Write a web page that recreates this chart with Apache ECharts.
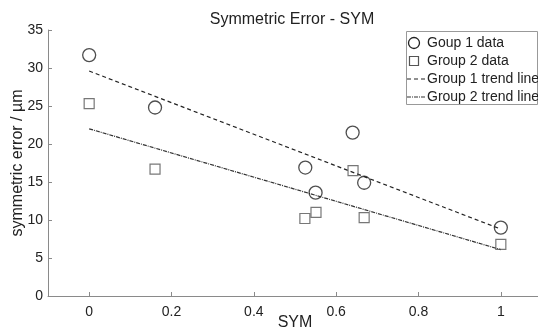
<!DOCTYPE html>
<html>
<head>
<meta charset="utf-8">
<script src="https://cdn.jsdelivr.net/npm/echarts@6/dist/echarts.min.js"></script>
<style>
  html, body { margin: 0; padding: 0; background: #fff; }
  #chart { width: 538px; height: 331px; }
</style>
</head>
<body>
<div id="chart"></div>
<script>
// Group 1: SYM value and symmetric error (µm)
const group1X = [0, 0.16, 0.525, 0.55, 0.64, 0.668, 1.0];
const group1Y = [31.7, 24.8, 16.9, 13.6, 21.5, 14.9, 9.0];
// Group 2
const group2X = [0, 0.16, 0.524, 0.551, 0.641, 0.668, 1.0];
const group2Y = [25.3, 16.7, 10.2, 11.0, 16.5, 10.3, 6.8];
// Linear trend lines, given by their end points
const trendX = [0, 1];
const trend1Y = [29.6, 8.8];
const trend2Y = [22.0, 6.1];
// Tick labels
const xTicks = [0, 0.2, 0.4, 0.6, 0.8, 1];
// Legend entries
const legendNames = ['Goup 1 data', 'Group 2 data', 'Group 1 trend line', 'Group 2 trend line'];

const pairs = (xs, ys) => xs.map((x, i) => [x, ys[i]]);
const font = 'Liberation Sans, Arial, sans-serif';
const axisGray = '#8a8a8a';
const ink = '#222';

const dash1 = [4, 3];
const dash2 = [4, 1, 1, 1];

// Boxed legend in the upper right corner
const lgX = 406, lgY = 31, lgW = 131, lgH = 73, rowH = 18;
const rowY = i => lgY + 12 + i * rowH;
const legendGraphics = [
  { type: 'rect', shape: { x: lgX + 0.5, y: lgY + 0.5, width: lgW, height: lgH },
    style: { fill: '#fff', stroke: '#999', lineWidth: 1 }, z: 10 },
  { type: 'circle', shape: { cx: lgX + 8, cy: rowY(0), r: 5.5 },
    style: { fill: 'none', stroke: ink, lineWidth: 1.3 }, z: 11 },
  { type: 'rect', shape: { x: lgX + 3.5, y: rowY(1) - 4.5, width: 9, height: 9 },
    style: { fill: 'none', stroke: '#555', lineWidth: 1.2 }, z: 11 },
  { type: 'line', shape: { x1: lgX + 1, y1: rowY(2), x2: lgX + 20, y2: rowY(2) },
    style: { stroke: ink, lineWidth: 1.2, lineDash: dash1 }, z: 11 },
  { type: 'line', shape: { x1: lgX + 1, y1: rowY(3), x2: lgX + 20, y2: rowY(3) },
    style: { stroke: '#333', lineWidth: 1.2, lineDash: dash2 }, z: 11 }
].concat(legendNames.map((name, i) => ({
  type: 'text', x: lgX + 21, y: rowY(i), z: 11,
  style: { text: name, fontFamily: font, fontSize: 14, fill: ink, verticalAlign: 'middle', align: 'left' }
})));

const chart = echarts.init(document.getElementById('chart'), null, { renderer: 'canvas' });
chart.setOption({
  animation: false,
  backgroundColor: '#fff',
  title: {
    text: 'Symmetric Error - SYM',
    left: 287,
    textAlign: 'center',
    top: 7,
    textStyle: { fontFamily: font, fontSize: 16, fontWeight: 'normal', color: ink }
  },
  grid: { left: 48, right: -4, top: 30, bottom: 35, containLabel: false, outerBoundsMode: 'none' },
  xAxis: {
    type: 'value',
    min: -0.1,
    max: 1.1,
    name: 'SYM',
    nameLocation: 'middle',
    nameGap: 19,
    nameMoveOverlap: false,
    nameTextStyle: { fontFamily: font, fontSize: 16, color: ink },
    splitLine: { show: false },
    axisLine: { show: true, onZero: false, lineStyle: { color: axisGray, width: 1 } },
    axisTick: { show: true, inside: true, length: 4, customValues: xTicks, lineStyle: { color: axisGray } },
    axisLabel: { customValues: xTicks, fontFamily: font, fontSize: 14, color: ink, margin: 9 }
  },
  yAxis: {
    type: 'value',
    min: 0,
    max: 35,
    interval: 5,
    name: 'symmetric error / µm',
    nameLocation: 'middle',
    nameGap: 22,
    nameMoveOverlap: false,
    nameTextStyle: { fontFamily: font, fontSize: 16, color: ink },
    splitLine: { show: false },
    axisLine: { show: true, onZero: false, lineStyle: { color: axisGray, width: 1 } },
    axisTick: { show: true, inside: true, length: 4, lineStyle: { color: axisGray } },
    axisLabel: { fontFamily: font, fontSize: 14, color: ink, margin: 5 }
  },
  graphic: legendGraphics,
  series: [
    {
      name: legendNames[0],
      type: 'scatter',
      symbol: 'circle',
      symbolSize: 13,
      itemStyle: { color: 'rgba(0,0,0,0)', borderColor: ink, borderWidth: 1.3 },
      data: pairs(group1X, group1Y),
      z: 5
    },
    {
      name: legendNames[1],
      type: 'scatter',
      symbol: 'rect',
      symbolSize: 10,
      itemStyle: { color: 'rgba(0,0,0,0)', borderColor: '#555', borderWidth: 1.2 },
      data: pairs(group2X, group2Y),
      z: 5
    },
    {
      name: legendNames[2],
      type: 'line',
      showSymbol: false,
      symbol: 'none',
      lineStyle: { color: ink, width: 1.2, type: dash1 },
      data: pairs(trendX, trend1Y)
    },
    {
      name: legendNames[3],
      type: 'line',
      showSymbol: false,
      symbol: 'none',
      lineStyle: { color: '#333', width: 1.2, type: dash2 },
      data: pairs(trendX, trend2Y)
    }
  ]
});
</script>
</body>
</html>
